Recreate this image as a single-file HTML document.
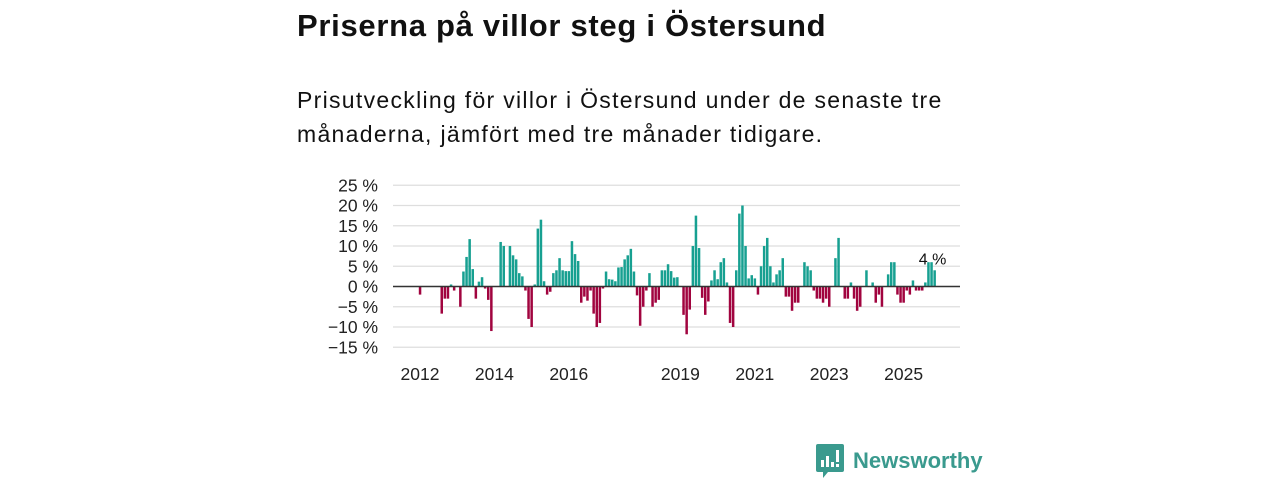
<!DOCTYPE html>
<html><head><meta charset="utf-8"><style>
body{margin:0;width:1280px;height:480px;background:#fff;font-family:"Liberation Sans","DejaVu Sans",sans-serif;overflow:hidden;position:relative}
h1{position:absolute;left:297px;top:8px;margin:0;font-size:31px;letter-spacing:0.7px;font-weight:bold;color:#111}
p.sub{position:absolute;left:297px;top:83px;margin:0;font-size:23px;letter-spacing:1.3px;line-height:34px;color:#111;width:680px}
svg{position:absolute;left:0;top:0}
.logo{position:absolute;left:816px;top:444px;display:flex;align-items:center}
.logo span{font-size:22px;font-weight:bold;color:#3a9a8e;margin-left:9px}
</style></head><body>
<h1>Priserna på villor steg i Östersund</h1>
<p class="sub">Prisutveckling för villor i Östersund under de senaste tre månaderna, jämfört med tre månader tidigare.</p>
<svg id="chart" width="1280" height="480"></svg>
<div class="logo">
<svg width="28" height="34" viewBox="0 0 28 34" style="position:static"><path d="M2 0h24a2 2 0 0 1 2 2v24a2 2 0 0 1-2 2H12l-5 6v-6H2a2 2 0 0 1-2-2V2a2 2 0 0 1 2-2z" fill="#3a9a8e"/><rect x="5" y="16" width="3" height="7" fill="#fff"/><rect x="10" y="12" width="3" height="11" fill="#fff"/><rect x="15" y="18" width="3" height="5" fill="#fff"/><rect x="20" y="6" width="3" height="12" fill="#fff"/><rect x="20" y="20" width="3" height="3" fill="#fff"/></svg>
<span>Newsworthy</span></div>
<script>
const values=[-2,0,0,0,0,0,0,-6.7,-3,-3,0.5,-1,0,-5,3.7,7.3,11.7,4.3,-3,1.2,2.3,-0.5,-3.3,-11,0,0,11,10,0,10,7.7,6.7,3.3,2.5,-1,-8,-10,0.5,14.3,16.5,1.3,-2,-1.3,3.3,4,7,4,3.8,3.8,11.2,8,6.3,-4,-2.5,-3.5,-1,-6.7,-10,-9,-0.5,3.7,1.8,1.7,1.3,4.7,4.8,6.7,7.7,9.3,3.7,-2.2,-9.7,-5,-1,3.3,-5,-4,-3.3,4,4,5.5,3.8,2.2,2.3,0,-7,-11.8,-5.7,10,17.5,9.5,-2.8,-7,-3.7,1.5,4,1.8,6,7,1,-9,-10,4,18,20,10,2,2.8,2,-2,5,10,12,5,1,3,4,7,-2.5,-2.5,-6,-4,-4,0,6,5,4,-1,-3,-3,-4,-3,-5,0,7,12,0,-3,-3,1,-3,-6,-5,0,4,0,1,-4,-2,-5,0,3,6,6,-2,-4,-4,-1,-2,1.5,-1,-1,-1,1,6,6,4];
const yTicks=[25,20,15,10,5,0,-5,-10,-15];
const yearLabels=[2012,2014,2016,2019,2021,2023,2025];
const startYear=2012;
const NS="http://www.w3.org/2000/svg";
const svg=document.getElementById('chart');
const x0=393,x1=960,xStart=420,monthW=3.1;
const y=v=>286.5-v*4.05;
const x=m=>xStart+m*monthW;
function el(t,a){const e=document.createElementNS(NS,t);for(const k in a)e.setAttribute(k,a[k]);svg.appendChild(e);return e;}
yTicks.forEach(t=>{
 const g=el('line',{x1:x0,x2:x1,y1:y(t),y2:y(t),stroke:'#dedede','stroke-width':1.3});
 
 
 const l=el('text',{x:378,y:y(t)+6,'text-anchor':'end','font-size':17.5,fill:'#222'});
 l.textContent=(t<0?'−'+(-t):t)+' %';
 
 
});
values.forEach((v,i)=>{
 if(v===0)return;
 const r=el('rect',{x:x(i)-1.2,width:2.5,y:Math.min(y(v),y(0)),height:Math.abs(y(v)-y(0)),fill:v>0?'#17a091':'#a1043f'});
 
 
});
const z=el('line',{x1:x0,x2:x1,y1:y(0),y2:y(0),stroke:'#333','stroke-width':1.6});


yearLabels.forEach(yr=>{
 const xx=x((yr-startYear)*12);
 const t=el('text',{x:xx,y:380,'text-anchor':'middle','font-size':17.5,fill:'#222'});
 t.textContent=yr;
 
 
});
const last=values.length-1;
const lab=el('text',{x:x(last)-2,y:y(values[last])-6,'text-anchor':'middle','font-size':16,fill:'#111'});
lab.textContent=Math.round(values[last])+' %';


</script>
</body></html>
